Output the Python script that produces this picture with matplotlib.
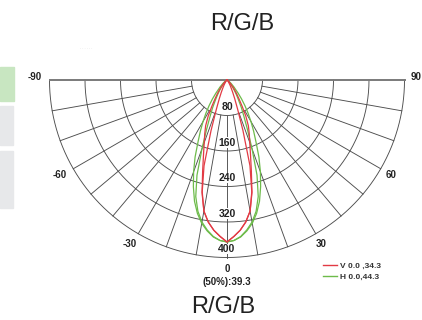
import numpy as np
import matplotlib.pyplot as plt
from matplotlib.patches import Rectangle
from matplotlib.lines import Line2D

plt.rcParams['font.family'] = ['Liberation Sans', 'DejaVu Sans']

# luminous intensity (cd), symmetric about 0 deg
angles = [0, 2.5, 5, 7.5, 10, 12.5, 15, 17.5, 20, 22.5, 25, 27.5, 30, 32.5,
          35, 37.5, 40, 45, 50, 60, 70, 80, 90]
v_outer = [365, 353, 340, 323, 300, 260, 212, 176, 150, 131, 114, 92, 68, 50,
           38, 28, 20, 10, 5, 2, 1, 0, 0]
v_inner = [365, 353, 340, 323, 300, 258, 200, 120, 70, 45, 30, 20, 14, 9,
           6, 4, 2, 1, 0, 0, 0, 0, 0]
h_outer = [365, 362, 355, 343, 328, 308, 283, 252, 220, 188, 155, 130, 108, 88,
           70, 54, 40, 22, 12, 4, 1, 0, 0]
h_inner = [365, 362, 354, 341, 325, 303, 272, 225, 165, 120, 90, 70, 52, 40,
           30, 22, 15, 7, 3, 1, 0, 0, 0]

rings = [80, 160, 240, 320, 400]
spokes = list(range(-80, 90, 10))
angle_labels = [-90, -60, -30, 0, 30, 60, 90]
legend_labels = ['V 0.0 ,34.3', 'H 0.0,44.3']
half_text = '(50%):39.3'
title = 'R/G/B'

red = '#e23a44'
green = '#6dbb4a'
grid_c = '#4d4d4d'


def to_xy(theta, r):
    t = np.radians(theta)
    return np.asarray(r) * np.sin(t), -np.asarray(r) * np.cos(t)


def mirror(a, v):
    a = np.array(a, dtype=float)
    v = np.array(v, dtype=float)
    return np.concatenate([-a[::-1], a[1:]]), np.concatenate([v[::-1], v[1:]])


fig = plt.figure(figsize=(4.22, 3.2), dpi=100)
ax = fig.add_axes([49.5 / 422, 62.5 / 320, 355 / 422, 177.5 / 320])
ax.set_xlim(-400, 400)
ax.set_ylim(-400, 0)
ax.set_aspect('equal')
ax.axis('off')

# grid
th = np.linspace(-90, 90, 361)
for r in rings:
    x, y = to_xy(th, r)
    ax.plot(x, y, color=grid_c, lw=0.65, clip_on=False, zorder=1)
for s in spokes:
    x, y = to_xy(np.array([s, s]), np.array([rings[0], rings[-1]]))
    ax.plot(x, y, color=grid_c, lw=0.65, clip_on=False, zorder=1)
ax.plot([-400, 400], [0, 0], color='#7a7a7a', lw=1.4, clip_on=False, zorder=1)

# curves
for vals, col in [(h_outer, green), (h_inner, green), (v_outer, red), (v_inner, red)]:
    a, v = mirror(angles, vals)
    x, y = to_xy(a, v)
    ax.plot(x, y, color=col, lw=0.9, clip_on=False, zorder=3)

# ring labels
for r in rings:
    ax.text(0, -(r - 19), str(r), ha='center', va='center', fontsize=7.5,
            fontweight='bold', color='#222222', zorder=4,
            bbox=dict(facecolor='white', edgecolor='none', pad=0.3))

# angle labels
for a in angle_labels:
    x, y = to_xy(a, 426)
    if a < 0:
        x = x - 7
    if abs(a) == 90:
        y = 6
    ax.text(x, y, str(a), ha='center', va='center', fontsize=7,
            fontweight='bold', color='#222222', clip_on=False)
ax.text(0, -455, half_text, ha='center', va='center', fontsize=7,
        fontweight='bold', color='#222222', clip_on=False)

handles = [Line2D([], [], color=red, lw=1), Line2D([], [], color=green, lw=1)]
fig.legend(handles, legend_labels, loc='upper left',
           bbox_to_anchor=(315 / 422, 1 - 255 / 320), frameon=False,
           handlelength=1.7, handletextpad=0.35, labelspacing=0.35,
           prop={'size': 6, 'weight': 'bold'}, labelcolor='#333333')

fig.text(242 / 422, 1 - 24 / 320, title, ha='center', va='center',
         fontsize=17, color='#222222')
fig.text(223 / 422, 1 - 307 / 320, title, ha='center', va='center',
         fontsize=17, color='#222222')
fig.text(86 / 422, 1 - 48 / 320, '. . . . . .', ha='center', va='center',
         fontsize=3, color='#bbbbbb')

# side panels
fig.patches.append(Rectangle((0, 1 - 101 / 320), 14 / 422, 34 / 320,
                             transform=fig.transFigure, color='#c8e6c1', zorder=0))
fig.patches.append(Rectangle((0, 1 - 145 / 320), 13 / 422, 39 / 320,
                             transform=fig.transFigure, color='#e7e8ea', zorder=0))
fig.patches.append(Rectangle((0, 1 - 208 / 320), 13 / 422, 57 / 320,
                             transform=fig.transFigure, color='#e7e8ea', zorder=0))

fig.savefig('out.png', dpi=100)
